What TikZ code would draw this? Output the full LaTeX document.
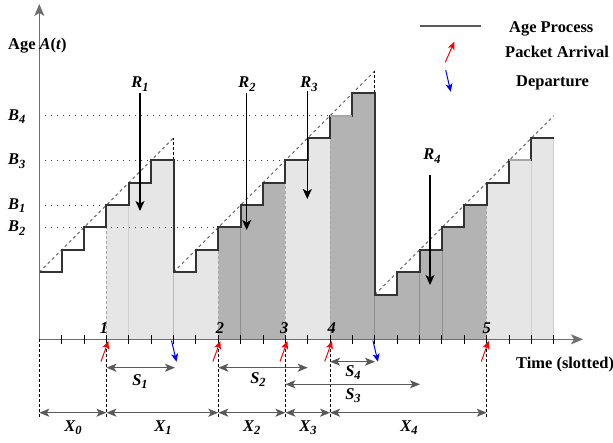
\documentclass[tikz,border=0pt]{standalone}
\usepackage{fontspec}
\setmainfont{Liberation Serif}
\usetikzlibrary{arrows.meta}
\definecolor{lightfill}{HTML}{E6E6E6}
\definecolor{darkfill}{HTML}{B3B3B3}
\definecolor{stairc}{HTML}{333333}
\definecolor{axisc}{HTML}{6E6E6E}
\definecolor{ivc}{HTML}{595959}
\definecolor{faintl}{HTML}{CFCFCF}
\definecolor{faintd}{HTML}{8F8F8F}
\definecolor{boundc}{HTML}{A6A6A6}
\newcommand{\lbl}[2]{\textbf{\textit{#1\raisebox{-0.45ex}{\fontsize{12.5}{12.5}\selectfont #2}}}}
\begin{document}
\begin{tikzpicture}[x=1bp,y=-1bp,
  every node/.style={inner sep=0pt, font=\fontsize{16.5}{19}\selectfont\bfseries},
  stair/.style={draw=stairc, line width=2bp, line join=miter},
  stairlight/.style={draw=gray!70, line width=2bp},
  diag/.style={draw=ivc, line width=0.9bp, dash pattern=on 3bp off 3bp},
  topdash/.style={draw=black, line width=0.9bp, dash pattern=on 3bp off 2bp},
  bline/.style={draw=black!75, line width=1bp, dash pattern=on 1bp off 5bp},
  bound/.style={draw=boundc, line width=1bp, dash pattern=on 3bp off 2bp},
  axisline/.style={draw=axisc, line width=1.3bp},
  axisarrow/.style={axisline, -{Stealth[length=12bp,width=10bp,inset=3bp]}},
  tick/.style={draw=black, line width=1bp},
  sep/.style={draw=black, line width=1bp, dash pattern=on 3bp off 2bp},
  interval/.style={draw=ivc, line width=1.3bp, {Stealth[length=10bp,width=8bp,inset=2.5bp]}-{Stealth[length=10bp,width=8bp,inset=2.5bp]}},
  rarrow/.style={draw=black, line width=1.2bp, -{Stealth[length=10bp,width=9bp,inset=2.5bp]}},
  arrivalarrow/.style={draw=red, line width=1bp, -{Stealth[length=8bp,width=7bp,inset=2bp]}},
  departarrow/.style={draw=blue, line width=1bp, -{Stealth[length=8bp,width=7bp,inset=2bp]}}
]
\useasboundingbox (0,0) rectangle (613,443);

% ---------- age process in slot units ----------
\begin{scope}[shift={(39.3,339.3)},x=22.37bp,y=22.37bp]
  \fill[lightfill] (3,0) -- (3,6) -| (4,7) -| (5,8) -| (6,3) -| (7,4) -- (8,4) -- (8,0) -- cycle;
  \fill[darkfill] (8,0) -- (8,5) -| (9,6) -| (10,7) -- (11,7) -- (11,0) -- cycle;
  \fill[lightfill] (11,0) -- (11,8) -| (12,9) -- (13,9) -- (13,0) -- cycle;
  \fill[darkfill] (13,0) -- (13,10) -| (14,11) -| (15,2) -| (16,3) -| (17,4) -| (18,5) -| (19,6) -- (20,6) -- (20,0) -- cycle;
  \fill[lightfill] (20,0) -- (20,7) -| (21,8) -| (22,9) -- (23,9) -- (23,0) -- cycle;
  \draw[faintl, line width=0.8bp] (4,0) -- (4,6) (22,0) -- (22,8) (23,0) -- (23,9);
  \draw[gray!55, line width=0.8bp] (6,0) -- (6,3);
  \draw[faintd, line width=0.8bp] (9,0) -- (9,5) (15,0) -- (15,2) (17,0) -- (17,3) (18,0) -- (18,4);
  \draw[bound] (3,0) -- (3,6) (8,0) -- (8,4) (11,0) -- (11,7) (13,0) -- (13,9) (20,0) -- (20,6);
  \draw[bline] (0,10) -- (13,10) (0,8) -- (11,8) (0,6) -- (3,6) (0,5) -- (8,5);
  \draw[diag] (0,3) -- (6,9) (6,3) -- (15,12) (15,2) -- (23,10);
  \draw[topdash] (6,8) -- (6,9) (15,11) -- (15,12);
  \draw[stair] (0,3) -| (1,4) -| (2,5) -| (3,6) -| (4,7) -| (5,8) -| (6,3) -| (7,4) -| (8,5) -| (9,6) -| (10,7) -| (11,8) -| (12,9) -| (13,10) -| (14,11) -| (15,2) -| (16,3) -| (17,4) -| (18,5) -| (19,6) -| (20,7) -| (21,8) -| (22,9) -- (23,9);
  \draw[stairlight] (13,10) -- (14,10) (21,8) -- (22,8);
\end{scope}

% ---------- axes ----------
\coordinate (O) at (39.3,339.3);
\coordinate (Ytop) at (39.3,4);
\coordinate (Xend) at (583,339.3);
\draw[axisarrow] (O) -- (Ytop);
\draw[axisarrow] (O) -- (Xend);
\foreach \k in {1,...,23} \draw[tick] ({39.3+22.37*\k},334.5) -- ++(0,9.5);

\node[anchor=base west] (agelabel) at (8,49.5) {Age \textit{A}(\textit{t})};
\node[anchor=base west] (timelabel) at (516,368) {Time (slotted)};

% ---------- B levels ----------
\node[anchor=base west] (B4) at (8,120.5) {\lbl{B}{4}};
\node[anchor=base west] (B3) at (8,164.8) {\lbl{B}{3}};
\node[anchor=base west] (B1) at (8,209.3) {\lbl{B}{1}};
\node[anchor=base west] (B2) at (8,232) {\lbl{B}{2}};

% ---------- R arrows ----------
\node[anchor=base] (R1) at (140,88) {\lbl{R}{1}};
\node[anchor=base] (R2) at (247,88) {\lbl{R}{2}};
\node[anchor=base] (R3) at (309,88) {\lbl{R}{3}};
\node[anchor=base] (R4) at (432,160) {\lbl{R}{4}};
\coordinate (r1s) at (140,93.3);  \coordinate (r1e) at (140,211);
\coordinate (r2s) at (246.7,93.3); \coordinate (r2e) at (246.7,230);
\coordinate (r3s) at (307.3,90.7); \coordinate (r3e) at (307.3,199);
\coordinate (r4s) at (430,175);   \coordinate (r4e) at (430,285);
\draw[rarrow] (r1s) -- (r1e);
\draw[rarrow] (r2s) -- (r2e);
\draw[rarrow] (r3s) -- (r3e);
\draw[rarrow] (r4s) -- (r4e);

% ---------- arrival numbers ----------
\node[anchor=base] (n1) at (104,333) {\textit{1}};
\node[anchor=base] (n2) at (220,333) {\textit{2}};
\node[anchor=base] (n3) at (284.3,333) {\textit{3}};
\node[anchor=base] (n4) at (331.7,333) {\textit{4}};
\node[anchor=base] (n5) at (486.7,333) {\textit{5}};

% ---------- separators ----------
\foreach \x [count=\i] in {39.3,106.4,218.3,285.4,330.1,486.7} {
  \coordinate (sa\i) at (\x,339.3);
  \coordinate (sb\i) at (\x,417);
  \coordinate (xi\i) at (\x,412.7);
  \draw[sep] (sa\i) -- (sb\i);
}

% ---------- arrivals / departures ----------
\foreach \x [count=\i] in {106.4,218.3,285.4,330.1,486.7} {
  \coordinate (aa\i) at ({\x-5.4},361.5);
  \coordinate (ab\i) at ({\x+2},341);
  \draw[arrivalarrow] (aa\i) -- (ab\i);
}
\foreach \x [count=\i] in {173.5,374.9} {
  \coordinate (da\i) at ({\x-2},340.5);
  \coordinate (db\i) at ({\x+3},361.7);
  \draw[departarrow] (da\i) -- (db\i);
}

% ---------- service intervals ----------
\coordinate (s1a) at (106.4,367.7); \coordinate (s1b) at (175,367.7);
\coordinate (s2a) at (218.3,367.7); \coordinate (s2b) at (307.7,367.7);
\coordinate (s3a) at (285.4,384.3); \coordinate (s3b) at (420,384.3);
\coordinate (s4a) at (330.1,361.7); \coordinate (s4b) at (375,361.7);
\draw[interval] (s1a) -- (s1b);
\draw[interval] (s2a) -- (s2b);
\draw[interval] (s3a) -- (s3b);
\draw[interval] (s4a) -- (s4b);
\node[anchor=base] (S1) at (140,385.5) {\lbl{S}{1}};
\node[anchor=base] (S2) at (258,383) {\lbl{S}{2}};
\node[anchor=base] (S3) at (353,399.5) {\lbl{S}{3}};
\node[anchor=base] (S4) at (353,376.5) {\lbl{S}{4}};

% ---------- inter-arrival intervals ----------
\draw[interval] (xi1) -- (xi2);
\draw[interval] (xi2) -- (xi3);
\draw[interval] (xi3) -- (xi4);
\draw[interval] (xi4) -- (xi5);
\draw[interval] (xi5) -- (xi6);
\node[anchor=base] (X0) at (73,431) {\lbl{X}{0}};
\node[anchor=base] (X1) at (163,431) {\lbl{X}{1}};
\node[anchor=base] (X2) at (251.7,431) {\lbl{X}{2}};
\node[anchor=base] (X3) at (308,431) {\lbl{X}{3}};
\node[anchor=base] (X4) at (409,431) {\lbl{X}{4}};

% ---------- legend ----------
\coordinate (lg1) at (420,26); \coordinate (lg2) at (481,26);
\draw[draw=ivc, line width=2.2bp] (lg1) -- (lg2);
\node[anchor=base west] (legage) at (509,33) {Age Process};
\coordinate (lr1) at (445.3,62.3); \coordinate (lr2) at (454.3,41.7);
\draw[arrivalarrow] (lr1) -- (lr2);
\node[anchor=base west] (legarr) at (505,58) {Packet Arrival};
\coordinate (lb1) at (445.7,70); \coordinate (lb2) at (450.7,91.7);
\draw[departarrow] (lb1) -- (lb2);
\node[anchor=base west] (legdep) at (516,87) {Departure};
\end{tikzpicture}
\end{document}
